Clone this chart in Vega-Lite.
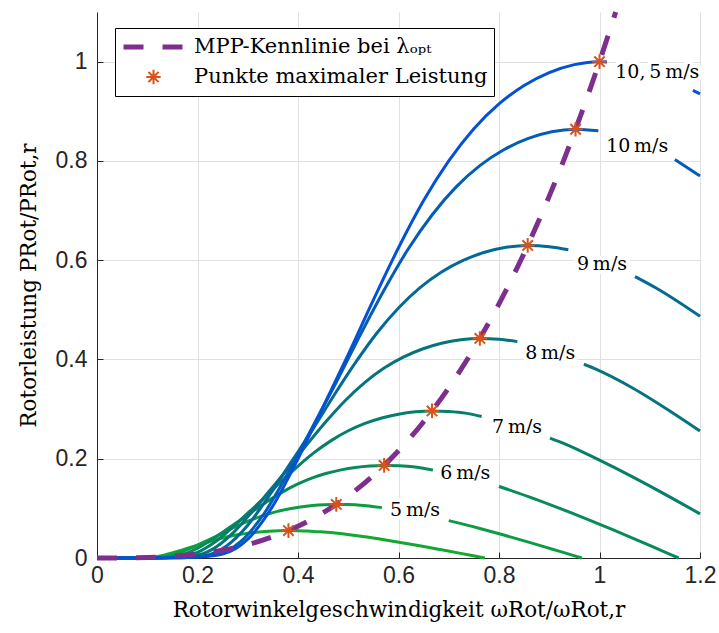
{
  "$schema": "https://vega.github.io/schema/vega-lite/v6.json",
  "width": 603,
  "height": 546,
  "autosize": {"type": "none"},
  "padding": {"left": 97, "top": 12, "right": 19, "bottom": 75},
  "background": "white",
  "config": {
    "view": {"stroke": null},
    "axis": {
      "domainColor": "#262626",
      "domainWidth": 1,
      "tickColor": "#262626",
      "tickSize": -6,
      "tickWidth": 1,
      "labelColor": "#262626",
      "labelFont": "Liberation Sans",
      "labelFontSize": 23,
      "titleFont": "DejaVu Serif",
      "titleFontSize": 21.5,
      "titleFontWeight": "normal",
      "titleColor": "#000000",
      "gridColor": "#E0E0E0",
      "gridWidth": 1
    }
  },
  "datasets": {
    "kurven": [
      {"v":4,"s":1,"x":0,"y":0},{"v":4,"s":1,"x":0.0381,"y":0},{"v":4,"s":1,"x":0.0571,"y":0},{"v":4,"s":1,"x":0.0762,"y":0.0001},{"v":4,"s":1,"x":0.0952,"y":0.0004},{"v":4,"s":1,"x":0.1143,"y":0.0021},{"v":4,"s":1,"x":0.1333,"y":0.0058},{"v":4,"s":1,"x":0.1524,"y":0.0111},{"v":4,"s":1,"x":0.1714,"y":0.0169},{"v":4,"s":1,"x":0.1905,"y":0.0227},{"v":4,"s":1,"x":0.2095,"y":0.0287},{"v":4,"s":1,"x":0.2286,"y":0.0346},{"v":4,"s":1,"x":0.2476,"y":0.0398},{"v":4,"s":1,"x":0.2667,"y":0.0442},{"v":4,"s":1,"x":0.2857,"y":0.0478},{"v":4,"s":1,"x":0.3048,"y":0.0506},{"v":4,"s":1,"x":0.3238,"y":0.0526},{"v":4,"s":1,"x":0.3429,"y":0.0541},{"v":4,"s":1,"x":0.3619,"y":0.0549},{"v":4,"s":1,"x":0.381,"y":0.0553},{"v":4,"s":1,"x":0.4,"y":0.0551},{"v":4,"s":1,"x":0.419,"y":0.0545},{"v":4,"s":1,"x":0.4381,"y":0.0531},{"v":4,"s":1,"x":0.4571,"y":0.0517},{"v":4,"s":1,"x":0.4952,"y":0.0477},{"v":4,"s":1,"x":0.5333,"y":0.0427},{"v":4,"s":1,"x":0.5714,"y":0.0368},{"v":4,"s":1,"x":0.6095,"y":0.0304},{"v":4,"s":1,"x":0.6476,"y":0.0237},{"v":4,"s":1,"x":0.6857,"y":0.0166},{"v":4,"s":1,"x":0.7238,"y":0.0093},{"v":4,"s":1,"x":0.7619,"y":0.0019},{"v":4,"s":1,"x":0.7718,"y":0},

      {"v":5,"s":1,"x":0,"y":0},{"v":5,"s":1,"x":0.0476,"y":0},{"v":5,"s":1,"x":0.0714,"y":0},{"v":5,"s":1,"x":0.0952,"y":0.0002},{"v":5,"s":1,"x":0.119,"y":0.0009},{"v":5,"s":1,"x":0.1429,"y":0.0041},{"v":5,"s":1,"x":0.1667,"y":0.0113},{"v":5,"s":1,"x":0.1905,"y":0.0216},{"v":5,"s":1,"x":0.2143,"y":0.0329},{"v":5,"s":1,"x":0.2381,"y":0.0443},{"v":5,"s":1,"x":0.2619,"y":0.0562},{"v":5,"s":1,"x":0.2857,"y":0.0675},{"v":5,"s":1,"x":0.3095,"y":0.0777},{"v":5,"s":1,"x":0.3333,"y":0.0864},{"v":5,"s":1,"x":0.3571,"y":0.0934},{"v":5,"s":1,"x":0.381,"y":0.0988},{"v":5,"s":1,"x":0.4048,"y":0.1028},{"v":5,"s":1,"x":0.4286,"y":0.1056},{"v":5,"s":1,"x":0.4524,"y":0.1073},{"v":5,"s":1,"x":0.4762,"y":0.108},{"v":5,"s":1,"x":0.5,"y":0.1076},{"v":5,"s":1,"x":0.5238,"y":0.1064},{"v":5,"s":1,"x":0.5476,"y":0.1038},{"v":5,"s":1,"x":0.567,"y":0.1015},
      {"v":5,"s":2,"x":0.7,"y":0.0753},{"v":5,"s":2,"x":0.7143,"y":0.0718},{"v":5,"s":2,"x":0.7619,"y":0.0594},{"v":5,"s":2,"x":0.8095,"y":0.0462},{"v":5,"s":2,"x":0.8571,"y":0.0324},{"v":5,"s":2,"x":0.9048,"y":0.0181},{"v":5,"s":2,"x":0.9524,"y":0.0038},{"v":5,"s":2,"x":0.9648,"y":0},

      {"v":6,"s":1,"x":0,"y":0},{"v":6,"s":1,"x":0.0571,"y":0},{"v":6,"s":1,"x":0.0857,"y":0.0001},{"v":6,"s":1,"x":0.1143,"y":0.0004},{"v":6,"s":1,"x":0.1429,"y":0.0015},{"v":6,"s":1,"x":0.1714,"y":0.0071},{"v":6,"s":1,"x":0.2,"y":0.0196},{"v":6,"s":1,"x":0.2286,"y":0.0373},{"v":6,"s":1,"x":0.2571,"y":0.0569},{"v":6,"s":1,"x":0.2857,"y":0.0765},{"v":6,"s":1,"x":0.3143,"y":0.097},{"v":6,"s":1,"x":0.3429,"y":0.1166},{"v":6,"s":1,"x":0.3714,"y":0.1343},{"v":6,"s":1,"x":0.4,"y":0.1493},{"v":6,"s":1,"x":0.4286,"y":0.1614},{"v":6,"s":1,"x":0.4571,"y":0.1707},{"v":6,"s":1,"x":0.4857,"y":0.1776},{"v":6,"s":1,"x":0.5143,"y":0.1825},{"v":6,"s":1,"x":0.5429,"y":0.1855},{"v":6,"s":1,"x":0.5714,"y":0.1866},{"v":6,"s":1,"x":0.6,"y":0.1858},{"v":6,"s":1,"x":0.6286,"y":0.1838},{"v":6,"s":1,"x":0.6571,"y":0.1793},{"v":6,"s":1,"x":0.6685,"y":0.1774},
      {"v":6,"s":2,"x":0.8,"y":0.1442},{"v":6,"s":2,"x":0.8571,"y":0.1241},{"v":6,"s":2,"x":0.9143,"y":0.1026},{"v":6,"s":2,"x":0.9714,"y":0.0799},{"v":6,"s":2,"x":1.0286,"y":0.056},{"v":6,"s":2,"x":1.0857,"y":0.0313},{"v":6,"s":2,"x":1.1429,"y":0.0065},{"v":6,"s":2,"x":1.1577,"y":0},

      {"v":7,"s":1,"x":0,"y":0},{"v":7,"s":1,"x":0.0667,"y":0},{"v":7,"s":1,"x":0.1,"y":0.0001},{"v":7,"s":1,"x":0.1333,"y":0.0006},{"v":7,"s":1,"x":0.1667,"y":0.0024},{"v":7,"s":1,"x":0.2,"y":0.0113},{"v":7,"s":1,"x":0.2333,"y":0.0311},{"v":7,"s":1,"x":0.2667,"y":0.0593},{"v":7,"s":1,"x":0.3,"y":0.0904},{"v":7,"s":1,"x":0.3333,"y":0.1215},{"v":7,"s":1,"x":0.3667,"y":0.1541},{"v":7,"s":1,"x":0.4,"y":0.1852},{"v":7,"s":1,"x":0.4333,"y":0.2133},{"v":7,"s":1,"x":0.4667,"y":0.237},{"v":7,"s":1,"x":0.5,"y":0.2563},{"v":7,"s":1,"x":0.5333,"y":0.2711},{"v":7,"s":1,"x":0.5667,"y":0.2821},{"v":7,"s":1,"x":0.6,"y":0.2898},{"v":7,"s":1,"x":0.6333,"y":0.2945},{"v":7,"s":1,"x":0.6667,"y":0.2963},{"v":7,"s":1,"x":0.7,"y":0.2951},{"v":7,"s":1,"x":0.7333,"y":0.2919},{"v":7,"s":1,"x":0.7655,"y":0.285},
      {"v":7,"s":2,"x":0.9015,"y":0.2416},{"v":7,"s":2,"x":0.9333,"y":0.229},{"v":7,"s":2,"x":1.0,"y":0.197},{"v":7,"s":2,"x":1.0667,"y":0.163},{"v":7,"s":2,"x":1.1333,"y":0.1268},{"v":7,"s":2,"x":1.2,"y":0.0889},

      {"v":8,"s":1,"x":0,"y":0},{"v":8,"s":1,"x":0.0762,"y":0},{"v":8,"s":1,"x":0.1143,"y":0.0002},{"v":8,"s":1,"x":0.1524,"y":0.0009},{"v":8,"s":1,"x":0.1905,"y":0.0035},{"v":8,"s":1,"x":0.2286,"y":0.0168},{"v":8,"s":1,"x":0.2667,"y":0.0464},{"v":8,"s":1,"x":0.3048,"y":0.0885},{"v":8,"s":1,"x":0.3429,"y":0.1349},{"v":8,"s":1,"x":0.381,"y":0.1813},{"v":8,"s":1,"x":0.419,"y":0.23},{"v":8,"s":1,"x":0.4571,"y":0.2764},{"v":8,"s":1,"x":0.4952,"y":0.3184},{"v":8,"s":1,"x":0.5333,"y":0.3538},{"v":8,"s":1,"x":0.5714,"y":0.3826},{"v":8,"s":1,"x":0.6095,"y":0.4047},{"v":8,"s":1,"x":0.6476,"y":0.4211},{"v":8,"s":1,"x":0.6857,"y":0.4326},{"v":8,"s":1,"x":0.7238,"y":0.4396},{"v":8,"s":1,"x":0.7619,"y":0.4423},{"v":8,"s":1,"x":0.8,"y":0.4405},{"v":8,"s":1,"x":0.8365,"y":0.4359},
      {"v":8,"s":2,"x":0.969,"y":0.3904},{"v":8,"s":2,"x":0.9905,"y":0.3813},{"v":8,"s":2,"x":1.0667,"y":0.3419},{"v":8,"s":2,"x":1.1429,"y":0.2941},{"v":8,"s":2,"x":1.2,"y":0.2557},

      {"v":9,"s":1,"x":0,"y":0},{"v":9,"s":1,"x":0.0857,"y":0},{"v":9,"s":1,"x":0.1286,"y":0.0003},{"v":9,"s":1,"x":0.1714,"y":0.0013},{"v":9,"s":1,"x":0.2143,"y":0.005},{"v":9,"s":1,"x":0.2571,"y":0.0239},{"v":9,"s":1,"x":0.3,"y":0.0661},{"v":9,"s":1,"x":0.3429,"y":0.1259},{"v":9,"s":1,"x":0.3857,"y":0.1921},{"v":9,"s":1,"x":0.4286,"y":0.2582},{"v":9,"s":1,"x":0.4714,"y":0.3275},{"v":9,"s":1,"x":0.5143,"y":0.3936},{"v":9,"s":1,"x":0.5571,"y":0.4534},{"v":9,"s":1,"x":0.6,"y":0.5038},{"v":9,"s":1,"x":0.6429,"y":0.5447},{"v":9,"s":1,"x":0.6857,"y":0.5762},{"v":9,"s":1,"x":0.7286,"y":0.5995},{"v":9,"s":1,"x":0.7714,"y":0.6159},{"v":9,"s":1,"x":0.8143,"y":0.626},{"v":9,"s":1,"x":0.8571,"y":0.6297},{"v":9,"s":1,"x":0.9,"y":0.6272},{"v":9,"s":1,"x":0.938,"y":0.6211},
      {"v":9,"s":2,"x":1.0707,"y":0.5668},{"v":9,"s":2,"x":1.1143,"y":0.5428},{"v":9,"s":2,"x":1.2,"y":0.4868},

      {"v":10,"s":1,"x":0,"y":0},{"v":10,"s":1,"x":0.0952,"y":0},{"v":10,"s":1,"x":0.1429,"y":0.0003},{"v":10,"s":1,"x":0.1905,"y":0.0017},{"v":10,"s":1,"x":0.2381,"y":0.0069},{"v":10,"s":1,"x":0.2857,"y":0.0328},{"v":10,"s":1,"x":0.3333,"y":0.0907},{"v":10,"s":1,"x":0.381,"y":0.1728},{"v":10,"s":1,"x":0.4286,"y":0.2635},{"v":10,"s":1,"x":0.4762,"y":0.3542},{"v":10,"s":1,"x":0.5238,"y":0.4492},{"v":10,"s":1,"x":0.5714,"y":0.5399},{"v":10,"s":1,"x":0.619,"y":0.622},{"v":10,"s":1,"x":0.6667,"y":0.6911},{"v":10,"s":1,"x":0.7143,"y":0.7472},{"v":10,"s":1,"x":0.7619,"y":0.7904},{"v":10,"s":1,"x":0.8095,"y":0.8224},{"v":10,"s":1,"x":0.8571,"y":0.8448},{"v":10,"s":1,"x":0.9048,"y":0.8587},{"v":10,"s":1,"x":0.9524,"y":0.8638},{"v":10,"s":1,"x":0.9977,"y":0.8606},
      {"v":10,"s":2,"x":1.15,"y":0.8029},{"v":10,"s":2,"x":1.2,"y":0.7698},

      {"v":10.5,"s":1,"x":0,"y":0},{"v":10.5,"s":1,"x":0.1,"y":0},{"v":10.5,"s":1,"x":0.15,"y":0.0004},{"v":10.5,"s":1,"x":0.2,"y":0.002},{"v":10.5,"s":1,"x":0.25,"y":0.008},{"v":10.5,"s":1,"x":0.3,"y":0.038},{"v":10.5,"s":1,"x":0.35,"y":0.105},{"v":10.5,"s":1,"x":0.4,"y":0.2},{"v":10.5,"s":1,"x":0.45,"y":0.305},{"v":10.5,"s":1,"x":0.5,"y":0.41},{"v":10.5,"s":1,"x":0.55,"y":0.52},{"v":10.5,"s":1,"x":0.6,"y":0.625},{"v":10.5,"s":1,"x":0.65,"y":0.72},{"v":10.5,"s":1,"x":0.7,"y":0.8},{"v":10.5,"s":1,"x":0.75,"y":0.865},{"v":10.5,"s":1,"x":0.8,"y":0.915},{"v":10.5,"s":1,"x":0.85,"y":0.952},{"v":10.5,"s":1,"x":0.9,"y":0.978},{"v":10.5,"s":1,"x":0.95,"y":0.994},{"v":10.5,"s":1,"x":1.0,"y":1.0},{"v":10.5,"s":1,"x":1.015,"y":0.9995},
      {"v":10.5,"s":2,"x":1.186,"y":0.942},{"v":10.5,"s":2,"x":1.2,"y":0.935}
    ],
    "mpp": [
      {"x":0,"y":0},{"x":0.05,"y":0.0001},{"x":0.1,"y":0.001},{"x":0.15,"y":0.0034},{"x":0.2,"y":0.008},{"x":0.25,"y":0.0156},{"x":0.3,"y":0.027},{"x":0.35,"y":0.0429},{"x":0.4,"y":0.064},{"x":0.45,"y":0.0911},{"x":0.5,"y":0.125},{"x":0.55,"y":0.1664},{"x":0.6,"y":0.216},{"x":0.65,"y":0.2746},{"x":0.7,"y":0.343},{"x":0.75,"y":0.4219},{"x":0.8,"y":0.512},{"x":0.85,"y":0.6141},{"x":0.9,"y":0.729},{"x":0.95,"y":0.8574},{"x":1.0,"y":1.0},{"x":1.0323,"y":1.1}
    ],
    "maxima": [
      {"v":4,"x":0.381,"y":0.0553},{"v":5,"x":0.4762,"y":0.108},{"v":6,"x":0.5714,"y":0.1866},{"v":7,"x":0.6667,"y":0.2963},{"v":8,"x":0.7619,"y":0.4423},{"v":9,"x":0.8571,"y":0.6297},{"v":10,"x":0.9524,"y":0.8638},{"v":10.5,"x":1.0,"y":1.0}
    ],
    "beschriftung": [
      {"t":"5\u2009m/s","x":0.633,"y":0.097},
      {"t":"6\u2009m/s","x":0.733,"y":0.172},
      {"t":"7\u2009m/s","x":0.836,"y":0.264},
      {"t":"8\u2009m/s","x":0.902,"y":0.413},
      {"t":"9\u2009m/s","x":1.005,"y":0.592},
      {"t":"10\u2009m/s","x":1.075,"y":0.831},
      {"t":"10,\u20095\u2009m/s","x":1.115,"y":0.98}
    ]
  },
  "encoding": {
    "x": {
      "field": "x",
      "type": "quantitative",
      "scale": {"domain": [0, 1.2], "nice": false, "zero": false},
      "axis": {
        "title": "Rotorwinkelgeschwindigkeit \u03c9Rot/\u03c9Rot,r",
        "values": [0, 0.2, 0.4, 0.6, 0.8, 1, 1.2],
        "format": "~g",
        "labelFlush": false,
        "labelPadding": 12,
        "titlePadding": 12
      }
    },
    "y": {
      "field": "y",
      "type": "quantitative",
      "scale": {"domain": [0, 1.1], "nice": false, "zero": false},
      "axis": {
        "title": "Rotorleistung PRot/PRot,r",
        "values": [0, 0.2, 0.4, 0.6, 0.8, 1],
        "format": "~g",
        "labelFlush": false,
        "labelPadding": 16,
        "titlePadding": 15
      }
    }
  },
  "layer": [
    {
      "data": {"name": "kurven"},
      "mark": {"type": "line", "strokeWidth": 3, "interpolate": "monotone", "strokeCap": "butt"},
      "encoding": {
        "stroke": {
          "field": "v",
          "type": "ordinal",
          "scale": {
            "domain": [4, 5, 6, 7, 8, 9, 10, 10.5],
            "range": ["#12A832", "#0C9C44", "#088B59", "#067F6A", "#05747C", "#046A95", "#045DB5", "#0352D6"]
          },
          "legend": null
        },
        "detail": {"field": "s"}
      }
    },
    {
      "data": {"name": "beschriftung"},
      "mark": {"type": "text", "font": "DejaVu Serif", "fontSize": 19, "align": "center", "baseline": "middle", "fill": "white", "stroke": "white", "strokeWidth": 8, "strokeJoin": "round"},
      "encoding": {"text": {"field": "t"}}
    },
    {
      "data": {"name": "beschriftung"},
      "mark": {"type": "text", "font": "DejaVu Serif", "fontSize": 19, "align": "center", "baseline": "middle", "fill": "#000000"},
      "encoding": {"text": {"field": "t"}}
    },
    {
      "data": {"name": "mpp"},
      "mark": {"type": "line", "strokeWidth": 5, "strokeDash": [20, 19], "strokeCap": "butt", "interpolate": "monotone"},
      "encoding": {
        "color": {
          "datum": "MPP-Kennlinie bei \u03bb\u2092\u209a\u209c",
          "type": "nominal",
          "scale": {
            "domain": ["MPP-Kennlinie bei \u03bb\u2092\u209a\u209c", "Punkte maximaler Leistung"],
            "range": ["#7E2F8E", "#D95319"]
          },
          "legend": {
            "title": null,
            "orient": "none",
            "legendX": 18,
            "legendY": 16,
            "strokeColor": "#000000",
            "fillColor": "#FFFFFF",
            "padding": 6,
            "cornerRadius": 0,
            "labelFont": "DejaVu Serif",
            "labelFontSize": 21,
            "labelColor": "#000000",
            "labelOffset": 8,
            "labelLimit": 500,
            "symbolSize": 3600,
            "symbolStrokeWidth": 5,
            "symbolType": "stroke",
            "clipHeight": 26,
            "rowPadding": 4,
            "encode": {
              "symbols": {
                "update": {
                  "shape": {"signal": "(datum.value === 'Punkte maximaler Leistung' ? 'M-0.24,0L0.24,0M0,-0.24L0,0.24M-0.17,-0.17L0.17,0.17M-0.17,0.17L0.17,-0.17' : 'M-1,0L1,0')"},
                  "size": {"value": 3600},
                  "strokeDash": {"signal": "(datum.value === 'Punkte maximaler Leistung' ? [1, 0] : [20, 19])"},
                  "strokeWidth": {"signal": "(datum.value === 'Punkte maximaler Leistung' ? 2 : 5)"},
                  "fill": {"value": "transparent"},
                  "opacity": {"value": 1}
                }
              }
            }
          }
        }
      }
    },
    {
      "data": {"name": "maxima"},
      "mark": {"type": "point", "shape": "M-1,0L1,0M0,-1L0,1M-0.71,-0.71L0.71,0.71M-0.71,0.71L0.71,-0.71", "filled": false, "size": 215, "strokeWidth": 2, "opacity": 1},
      "encoding": {
        "color": {"datum": "Punkte maximaler Leistung", "type": "nominal"}
      }
    }
  ]
}
